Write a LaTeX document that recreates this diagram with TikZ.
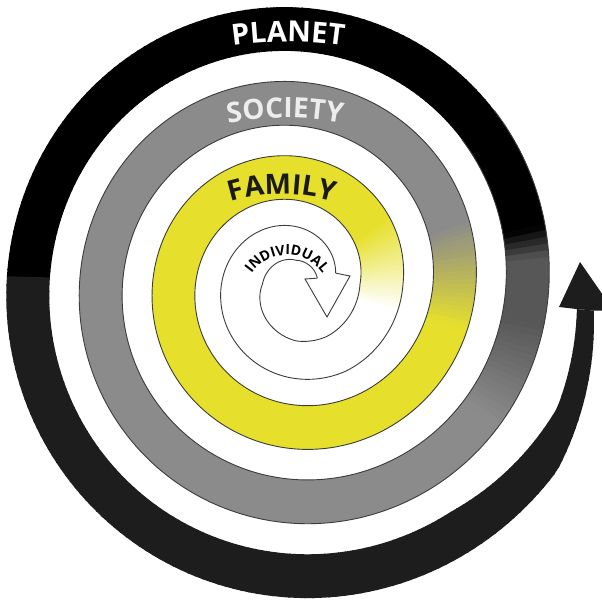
\documentclass[tikz,border=0pt]{standalone}
\usepackage{fontspec}
\setmainfont{Open Sans}
\usetikzlibrary{decorations.text}
\definecolor{yel}{HTML}{E6E02C}
\definecolor{gry}{HTML}{8B8B8B}
\definecolor{dgr}{HTML}{575757}
\definecolor{blk2}{HTML}{1E1D1E}
\definecolor{edge}{HTML}{3C3C3C}
\definecolor{soc}{HTML}{EDEDED}
\definecolor{fam}{HTML}{1A1A1A}
% radii and points of the spiral band at angle #1 (degrees)
\newcommand\sprad[1]{%
  \pgfmathsetmacro\Rb{107+0.2027778*(#1)}%
  \ifdim #1pt<0pt \pgfmathsetmacro\Rb{\Rb+4*min(1,(-1)*(#1)/60)}\fi
  \ifdim #1pt<-270pt \pgfmathsetmacro\Rw{33+((#1)+270)/75*14}%
  \else\ifdim #1pt<-180pt \pgfmathsetmacro\Rw{41+((#1)+180)/90*8}%
  \else\ifdim #1pt<-90pt \pgfmathsetmacro\Rw{37-((#1)+90)/90*4}%
  \else\ifdim #1pt<0pt \pgfmathsetmacro\Rw{43+(#1)/90*6}%
  \else \def\Rw{43}\fi\fi\fi\fi
  \let\Ro\Rb
  \ifdim #1pt>1045pt \pgfmathsetmacro\Ro{318.9-((#1)-1045)*20/30}\fi
  \pgfmathsetmacro\Ri{\Rb-\Rw}%
  \ifdim #1pt>1025pt \pgfmathsetmacro\Ri{271.85+((#1)-1025)*16.15/30}\fi
  \ifdim #1pt>1055pt \pgfmathsetmacro\Ri{288-((#1)-1055)*6/20}\fi
  \pgfmathsetmacro\Xo{296+\Ro*cos(#1)}%
  \pgfmathsetmacro\Yo{316+1.02*\Ro*sin(#1)}%
  \pgfmathsetmacro\Xi{296+\Ri*cos(#1)}%
  \pgfmathsetmacro\Yi{316+1.02*\Ri*sin(#1)}%
}
\begin{document}
\begin{tikzpicture}[x=1pt,y=1pt,
  bandedge/.style={draw=edge, line width=0.9pt, line join=round}]
\path[use as bounding box] (0,0) rectangle (602,600);
\clip (0,0) rectangle (602,600);
\fill[white] (0,0) rectangle (602,600);

% spiral band, coloured segment by segment
\gdef\outpath{}\gdef\inpath{}
\foreach \s in {-345,-343.5,...,1074}{
  \pgfmathsetmacro\tb{min(\s+1.8,1075)}
  \pgfmathsetmacro\tm{\s+0.75}
  \sprad{\s}
  \let\XoA\Xo \let\YoA\Yo \let\XiA\Xi \let\YiA\Yi
  \sprad{\tb}
  \ifdim\tm pt<-15pt \colorlet{segc}{white}
  \else\ifdim\tm pt<35pt \pgfmathtruncatemacro\pc{(\tm+15)*2}\colorlet{segc}{yel!\pc!white}
  \else\ifdim\tm pt<345pt \colorlet{segc}{yel}
  \else\ifdim\tm pt<380pt \pgfmathtruncatemacro\pc{(\tm-345)/35*100}\colorlet{segc}{gry!\pc!yel}
  \else\ifdim\tm pt<686pt \colorlet{segc}{gry}
  \else\ifdim\tm pt<711pt \pgfmathtruncatemacro\pc{(\tm-686)*4}\colorlet{segc}{dgr!\pc!gry}
  \else\ifdim\tm pt<726pt \colorlet{segc}{dgr}
  \else\ifdim\tm pt<733pt \pgfmathtruncatemacro\pc{(\tm-726)/7*100}\colorlet{segc}{black!\pc!dgr}
  \else\ifdim\tm pt<898pt \colorlet{segc}{black}
  \else \colorlet{segc}{blk2}
  \fi\fi\fi\fi\fi\fi\fi\fi\fi
  \fill[segc] (\XoA,\YoA) -- (\Xo,\Yo) -- (\Xi,\Yi) -- (\XiA,\YiA) -- cycle;
  \ifdim \s pt<762pt
    \xdef\outpath{\outpath (\XoA,\YoA)}\xdef\inpath{\inpath (\XiA,\YiA)}
  \fi
}

% outlines of the band
\edef\tmpdraw{\noexpand\draw[bandedge] plot[smooth] coordinates {\outpath};}\tmpdraw
\edef\tmpdraw{\noexpand\draw[bandedge] plot[smooth] coordinates {\inpath};}\tmpdraw

% individual arrowhead
\sprad{-345}
\coordinate (ia) at (\Xi,\Yi);
\coordinate (ie) at (\Xo,\Yo);
\coordinate (ib) at (305,321);
\coordinate (ic) at (327,283);
\coordinate (id) at (350,324);
\filldraw[fill=white, bandedge, line join=miter] (ia) -- (ib) -- (ic) -- (id) -- (ie);

% planet arrowhead
\sprad{1075}
\coordinate (oa) at (\Xi,\Yi);
\coordinate (oe) at (\Xo,\Yo);
\coordinate (ob) at (559,293);
\coordinate (oc) at (580,338);
\coordinate (od) at (614,289);
\fill[blk2] (oa) -- (ob) -- (oc) -- (od) -- (oe) -- cycle;

% labels
\path[decorate, decoration={text along path, text align=center,
  text={|\color{white}\bfseries\fontsize{29}{30}\selectfont|PLANET}}]
  (288,178) ++(102:380) arc[start angle=102, end angle=78, radius=380];
\path[decorate, decoration={text along path, text align=center,
  text={|\color{soc}\bfseries\fontsize{28}{30}\selectfont|SOCIETY}}]
  (285,182) ++(104:300) arc[start angle=104, end angle=76, radius=300];
\path[decorate, decoration={text along path, text align=center,
  text={|\color{fam}\bfseries\fontsize{28}{30}\selectfont|FAMILY}}]
  (282,236) ++(115:170) arc[start angle=115, end angle=65, radius=170];
\path[decorate, decoration={text along path, text align=center,
  text={|\color{black}\bfseries\fontsize{14}{15}\selectfont|INDIVIDUAL}}]
  (287,302) ++(165:43) arc[start angle=165, end angle=15, radius=43];
\end{tikzpicture}
\end{document}
